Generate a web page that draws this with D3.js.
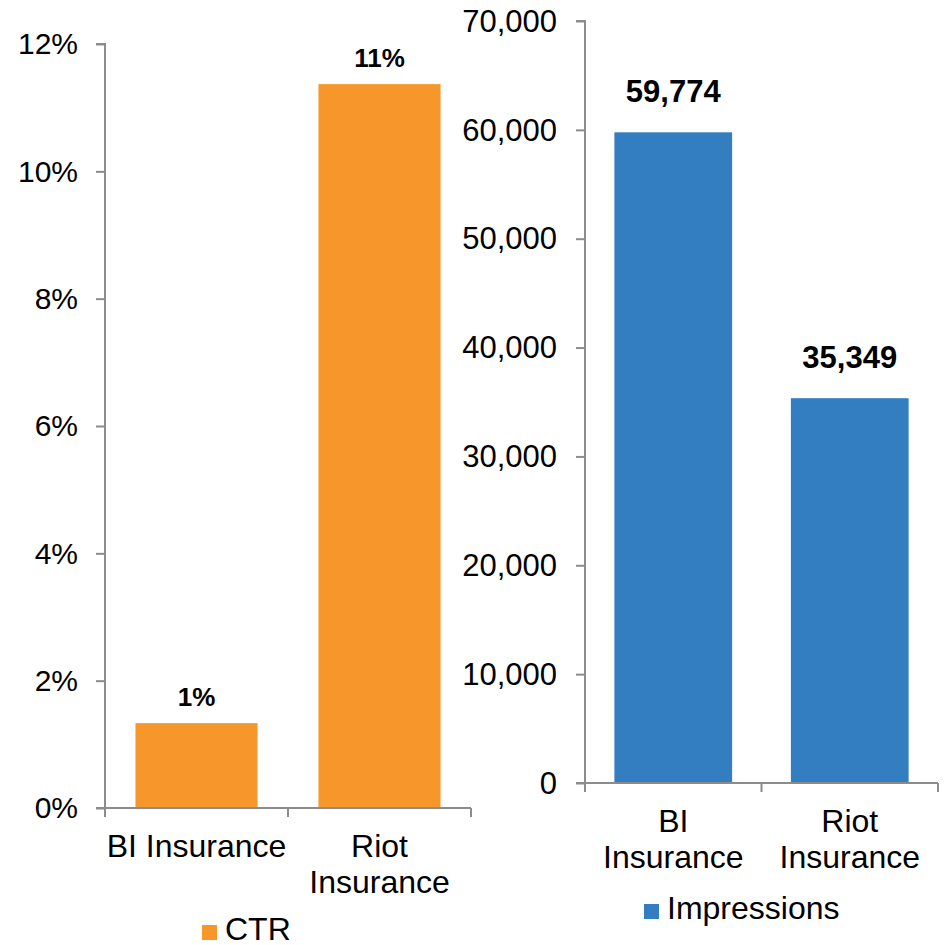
<!DOCTYPE html>
<html>
<head>
<meta charset="utf-8">
<script src="https://cdn.jsdelivr.net/npm/d3@7"></script>
<style>
  body { margin: 0; background: #fff; }
  text { font-family: Arial, "Liberation Sans", sans-serif; fill: #000; }
</style>
</head>
<body>
<svg id="chart" width="944" height="945"></svg>
<script>
// data
let categories = ["BI Insurance", "Riot Insurance"];
let ctrValues = [1.333, 11.37];          // percent
let ctrLabels = ["1%", "11%"];
let ctrTicks = [0, 2, 4, 6, 8, 10, 12];
let impValues = [59774, 35349];
let impLabels = ["59,774", "35,349"];
let impTicks = [0, 10000, 20000, 30000, 40000, 50000, 60000, 70000];

let svg = d3.select("#chart");
let axisColor = "#8c8c8c";

function drawPanel(opt) {
    let g = svg.append("g");

    let x = d3.scaleBand().domain(categories).range([opt.left, opt.right]).paddingInner(0).paddingOuter(0);
    let y = d3.scaleLinear().domain(opt.domain).range([opt.bottom, opt.top]);

    // y axis
    let yAxis = g.append("g")
        .attr("transform", "translate(" + opt.left + ",0)")
        .call(d3.axisLeft(y).tickValues(opt.ticks).tickSize(9).tickPadding(opt.tickPad).tickFormat(opt.fmt));
    yAxis.select(".domain").attr("stroke", axisColor).attr("stroke-width", 2)
        .attr("d", "M-9," + opt.top + "H0V" + opt.bottom);
    yAxis.selectAll(".tick line").attr("stroke", axisColor).attr("stroke-width", 2);
    yAxis.selectAll(".tick text")
        .style("font-size", opt.tickFont + "px")
        .attr("dy", "0.33em");

    // bars
    let bw = x.bandwidth() * opt.barFrac;
    g.selectAll(".bar")
        .data(opt.values)
        .enter().append("rect")
        .attr("x", (d, i) => x(categories[i]) + (x.bandwidth() - bw) / 2)
        .attr("y", d => y(d))
        .attr("width", bw)
        .attr("height", d => y(0) - y(d))
        .attr("fill", opt.color);

    // data labels
    g.selectAll(".lbl")
        .data(opt.values)
        .enter().append("text")
        .attr("x", (d, i) => x(categories[i]) + x.bandwidth() / 2)
        .attr("y", d => y(d) - opt.labelGap)
        .attr("text-anchor", "middle")
        .style("font-size", opt.labelFont + "px")
        .style("font-weight", "bold")
        .text((d, i) => opt.labels[i]);

    // x axis
    let xAxis = g.append("g")
        .attr("transform", "translate(0," + opt.bottom + ")")
        .call(d3.axisBottom(x).tickSize(0).tickFormat(""));
    xAxis.select(".domain").attr("stroke", axisColor).attr("stroke-width", 2)
        .attr("d", "M" + (opt.left - 9) + ",0H" + opt.right);
    xAxis.selectAll(".tick").remove();
    let edges = [opt.left].concat(categories.map(c => x(c) + x.bandwidth()));
    xAxis.selectAll(".edge")
        .data(edges)
        .enter().append("line")
        .attr("x1", d => d).attr("x2", d => d)
        .attr("y1", 0).attr("y2", 9)
        .attr("stroke", axisColor).attr("stroke-width", 2);

    // category labels
    categories.forEach(function(c, i) {
        let lines = opt.catLines[i];
        let t = g.append("text")
            .attr("text-anchor", "middle")
            .style("font-size", opt.catFont + "px");
        lines.forEach(function(l, j) {
            t.append("tspan")
                .attr("x", x(c) + x.bandwidth() / 2)
                .attr("y", opt.catY + j * 36)
                .text(l);
        });
    });

    // legend
    g.append("rect")
        .attr("x", opt.legX).attr("y", opt.legY - 15)
        .attr("width", 15).attr("height", 15)
        .attr("fill", opt.color);
    g.append("text")
        .attr("x", opt.legX + 23).attr("y", opt.legY)
        .style("font-size", opt.catFont + "px")
        .text(opt.legend);
}

drawPanel({
    left: 105, right: 471, top: 44, bottom: 808,
    domain: [0, 12], ticks: ctrTicks, fmt: d => d + "%",
    tickFont: 30, tickPad: 18,
    values: ctrValues, labels: ctrLabels, labelFont: 26, labelGap: 17,
    barFrac: 0.667, color: "#F7962A",
    catLines: [["BI Insurance"], ["Riot", "Insurance"]], catFont: 32, catY: 857,
    legX: 202, legY: 940, legend: "CTR"
});

drawPanel({
    left: 585, right: 938, top: 21, bottom: 783,
    domain: [0, 70000], ticks: impTicks, fmt: d3.format(","),
    tickFont: 31, tickPad: 19,
    values: impValues, labels: impLabels, labelFont: 31, labelGap: 30,
    barFrac: 0.667, color: "#337EC0",
    catLines: [["BI", "Insurance"], ["Riot", "Insurance"]], catFont: 32, catY: 832,
    legX: 644, legY: 919, legend: "Impressions"
});
</script>
</body>
</html>
